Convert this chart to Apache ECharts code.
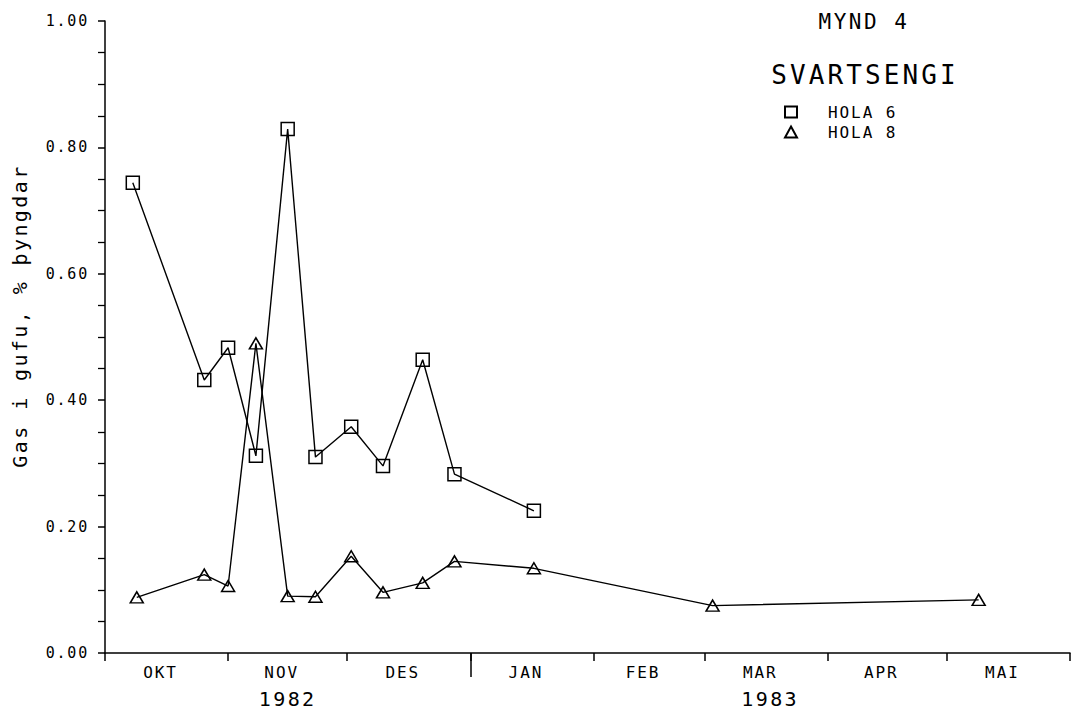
<!DOCTYPE html>
<html>
<head>
<meta charset="utf-8">
<script src="https://cdn.jsdelivr.net/npm/echarts@6/dist/echarts.min.js"></script>
<style>
  html, body { margin: 0; padding: 0; background: #fff; }
  #chart { width: 1077px; height: 713px; }
  #chart svg text { letter-spacing: 0.12em; }
</style>
</head>
<body>
<div id="chart"></div>
<script>
// ---- data ----
const monthNames = ['OKT', 'NOV', 'DES', 'JAN', 'FEB', 'MAR', 'APR', 'MAI'];
const monthStarts = ['1982-10-01', '1982-11-01', '1982-12-01', '1983-01-01', '1983-02-01',
                     '1983-03-01', '1983-04-01', '1983-05-01', '1983-06-01'];
const yearNames = ['1982', '1983'];
const yearStarts = ['1982-10-01', '1983-01-01', '1983-06-01'];
const yTicks = [0, 0.2, 0.4, 0.6, 0.8, 1.0];

const hola6Dates = ['1982-10-08', '1982-10-26', '1982-11-01', '1982-11-08', '1982-11-16', '1982-11-23',
                    '1982-12-02', '1982-12-10', '1982-12-20', '1982-12-28', '1983-01-17'];
const hola6Values = [0.744, 0.432, 0.483, 0.312, 0.829, 0.310, 0.358, 0.296, 0.464, 0.283, 0.225];

const hola8Dates = ['1982-10-09', '1982-10-26', '1982-11-01', '1982-11-08', '1982-11-16', '1982-11-23',
                    '1982-12-02', '1982-12-10', '1982-12-20', '1982-12-28', '1983-01-17', '1983-03-03', '1983-05-09'];
const hola8Values = [0.088, 0.124, 0.106, 0.490, 0.090, 0.089, 0.153, 0.096, 0.111, 0.145, 0.134, 0.075, 0.084];

const titleText = 'MYND 4';
const placeText = 'SVARTSENGI';
const seriesNames = ['HOLA 6', 'HOLA 8'];
const yAxisTitle = 'Gas i gufu, % þyngdar';

// ---- helpers ----
function dayOf(s) {
  const p = s.split('-').map(Number);
  return (Date.UTC(p[0], p[1] - 1, p[2]) - Date.UTC(1982, 9, 1)) / 86400000;
}
const bounds = monthStarts.map(dayOf);
const mids = monthNames.map((m, i) => (bounds[i] + bounds[i + 1]) / 2);
const yb = yearStarts.map(dayOf);
const yearMids = yearNames.map((y, i) => (yb[i] + yb[i + 1]) / 2);
const xMin = bounds[0], xMax = bounds[bounds.length - 1];

function labelFor(list, names) {
  return function (v) {
    for (let i = 0; i < list.length; i++) if (Math.abs(list[i] - v) < 1e-6) return names[i];
    return '';
  };
}

const FONT = 'DejaVu Sans Mono';
const chart = echarts.init(document.getElementById('chart'), null, { renderer: 'svg' });

chart.setOption({
  backgroundColor: '#fff',
  animation: false,
  grid: { left: 105, right: 7, top: 21, bottom: 60, containLabel: false },
  xAxis: [
    {
      type: 'value', min: xMin, max: xMax, position: 'bottom',
      axisLine: { show: true, onZero: false, lineStyle: { color: '#000', width: 1.5 } },
      axisTick: { show: true, customValues: bounds, length: 8, lineStyle: { color: '#000', width: 1.5 } },
      axisLabel: {
        show: true, customValues: mids, formatter: labelFor(mids, monthNames),
        color: '#000', fontFamily: FONT, fontSize: 16, margin: 11, padding: [0, 12, 0, 0]
      },
      splitLine: { show: false }
    },
    {
      type: 'value', min: xMin, max: xMax, position: 'bottom', offset: 0,
      axisLine: { show: false },
      axisTick: { show: true, customValues: [yb[1]], length: 24, lineStyle: { color: '#000', width: 1.5 } },
      axisLabel: {
        show: true, customValues: yearMids, formatter: labelFor(yearMids, yearNames),
        color: '#000', fontFamily: FONT, fontSize: 20, margin: 36
      },
      splitLine: { show: false }
    }
  ],
  yAxis: {
    type: 'value', min: yTicks[0], max: yTicks[yTicks.length - 1], interval: 0.2,
    axisLine: { show: true, onZero: false, lineStyle: { color: '#000', width: 1.5 } },
    axisTick: { show: true, length: 7, lineStyle: { color: '#000', width: 1.5 } },
    minorTick: { show: true, splitNumber: 4, length: 7, lineStyle: { color: '#000', width: 1.3 } },
    axisLabel: {
      color: '#000', fontFamily: FONT, fontSize: 15, margin: 16,
      formatter: v => v.toFixed(2)
    },
    splitLine: { show: false }
  },
  legend: {
    orient: 'vertical', left: 779, top: 99, itemGap: 4,
    itemWidth: 12, itemHeight: 11,
    textStyle: { color: '#000', fontFamily: FONT, fontSize: 16, padding: [0, 0, 0, 26] },
    data: [
      { name: seriesNames[0], icon: 'rect' },
      { name: seriesNames[1], icon: 'triangle' }
    ]
  },
  graphic: [
    { type: 'text', x: 864, y: 22, style: { text: titleText, fill: '#000', font: '21px "' + FONT + '"', align: 'center', verticalAlign: 'middle' } },
    { type: 'text', x: 865, y: 75, style: { text: placeText, fill: '#000', font: '26px "' + FONT + '"', align: 'center', verticalAlign: 'middle' } },
    { type: 'text', x: 20, y: 316, rotation: Math.PI / 2, style: { text: yAxisTitle, fill: '#000', font: '20px "' + FONT + '"', align: 'center', verticalAlign: 'middle' } }
  ],
  series: [
    {
      name: seriesNames[0], type: 'line',
      data: hola6Dates.map((d, i) => [dayOf(d), hola6Values[i]]),
      symbol: 'rect', symbolSize: 13,
      itemStyle: { color: 'rgba(255,255,255,0)', borderColor: '#000', borderWidth: 1.5 },
      lineStyle: { color: '#000', width: 1.4 }
    },
    {
      name: seriesNames[1], type: 'line',
      data: hola8Dates.map((d, i) => [dayOf(d), hola8Values[i]]),
      symbol: 'triangle', symbolSize: [13, 11],
      itemStyle: { color: 'rgba(255,255,255,0)', borderColor: '#000', borderWidth: 1.5 },
      lineStyle: { color: '#000', width: 1.4 }
    }
  ]
});
</script>
</body>
</html>
